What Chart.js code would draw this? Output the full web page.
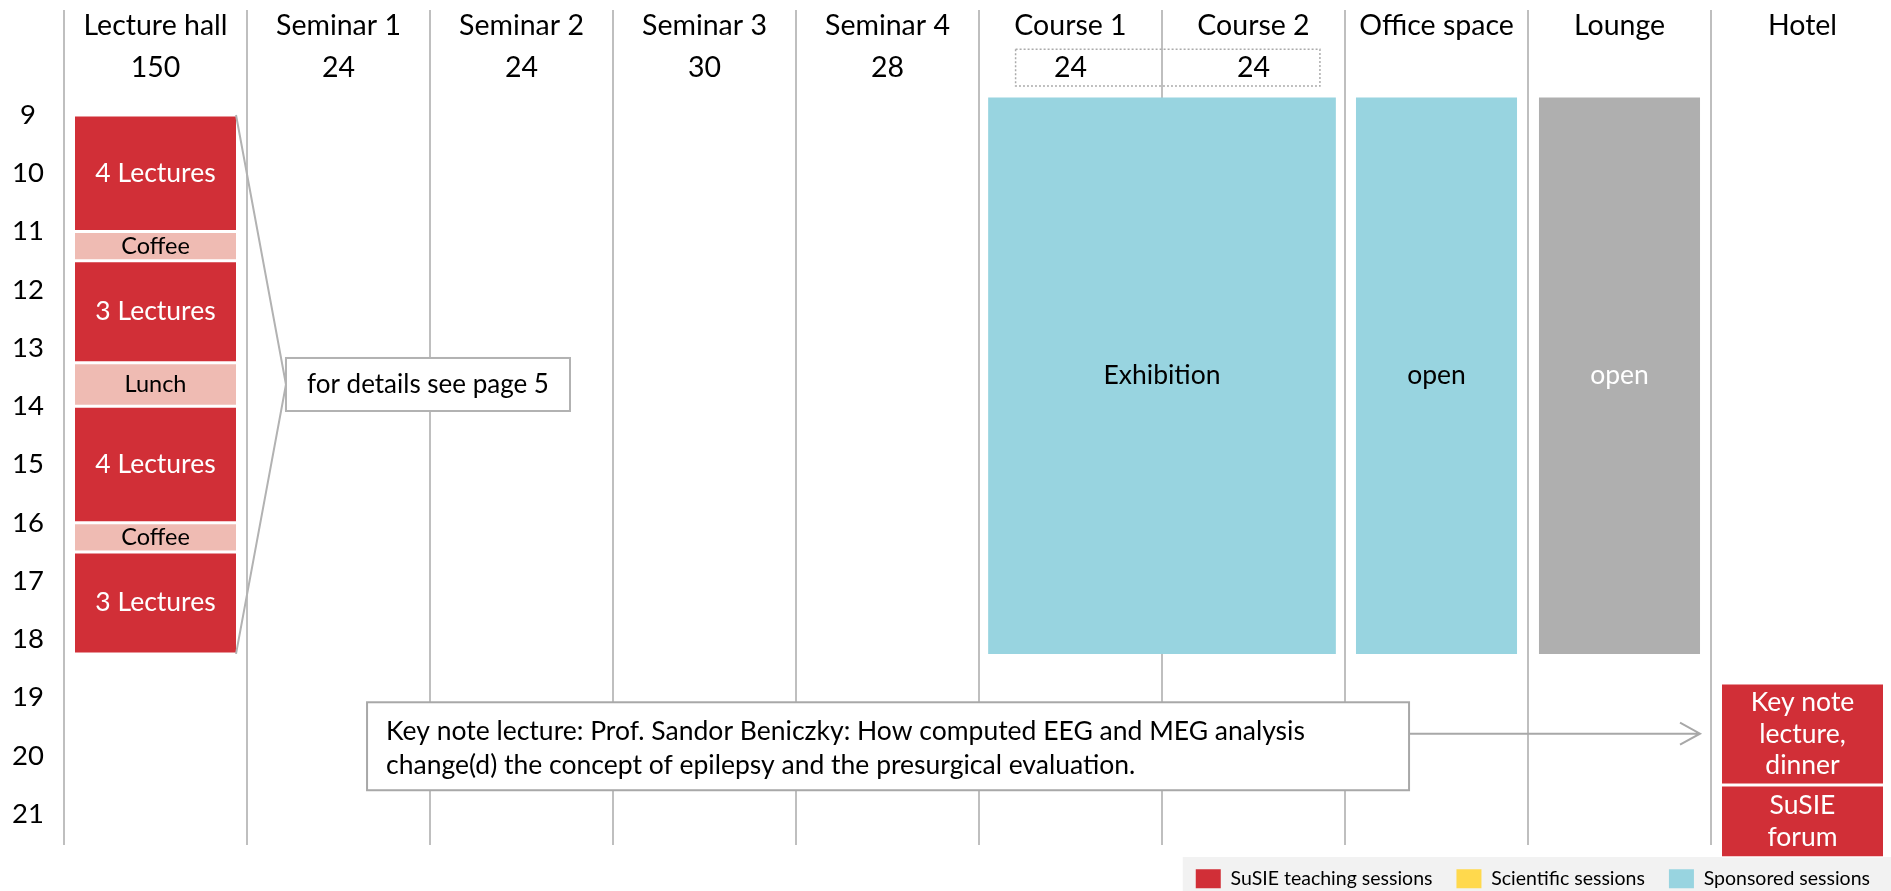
<!DOCTYPE html>
<html>
<head>
<meta charset="utf-8">
<title>SuSIE schedule</title>
<script src="https://cdn.jsdelivr.net/npm/chart.js@4.4.1/dist/chart.umd.min.js"></script>
<style>
  html, body { margin: 0; padding: 0; background: #fff; overflow: hidden; }
  #wrap { width: 1894px; height: 891px; position: relative; }
</style>
</head>
<body>
<div id="wrap"><canvas id="schedule"></canvas></div>
<script>
// rooms along the top, with their capacity underneath
const rooms = ['Lecture hall', 'Seminar 1', 'Seminar 2', 'Seminar 3', 'Seminar 4', 'Course 1', 'Course 2', 'Office space', 'Lounge', 'Hotel'];
const capacity = ['150', '24', '24', '30', '28', '24', '24', '', '', ''];
const hours = [9, 10, 11, 12, 13, 14, 15, 16, 17, 18, 19, 20, 21];

// SuSIE teaching sessions (red)
const teachRoom = ['Lecture hall', 'Lecture hall', 'Lecture hall', 'Lecture hall', 'Hotel', 'Hotel'];
const teachStart = [9, 11.5, 14, 16.5, 18.75, 20.5];
const teachEnd = [11, 13.25, 16, 18.25, 20.5, 21.75];
const teachText = ['4 Lectures', '3 Lectures', '4 Lectures', '3 Lectures', ['Key note', 'lecture,', 'dinner'], ['SuSIE', 'forum']];

// coffee / lunch breaks
const breakRoom = ['Lecture hall', 'Lecture hall', 'Lecture hall'];
const breakStart = [11, 13.25, 16];
const breakEnd = [11.5, 14, 16.5];
const breakText = ['Coffee', 'Lunch', 'Coffee'];

// sponsored: exhibition covers both course rooms (x in room units, 6 = wall between Course 1 and 2)
const exhibitionX = [6];
const exhibitionStart = [8.7];
const exhibitionEnd = [18.25];
const officeRoom = ['Office space'];
const officeStart = [8.7];
const officeEnd = [18.25];

// lounge
const loungeRoom = ['Lounge'];
const loungeStart = [8.7];
const loungeEnd = [18.25];

const legendText = ['SuSIE teaching sessions', 'Scientific sessions', 'Sponsored sessions'];
const legendColors = ['#D12F37', '#FFD94D', '#98D4E0'];

const FONT = 'Lato';
Chart.defaults.font.family = FONT;
Chart.defaults.color = '#000';

function spans(xs, starts, ends) {
    return xs.map((x, i) => ({ x: x, y: [starts[i], ends[i]] }));
}

// gray strip behind the legend
const legendBack = {
    id: 'legendBack',
    beforeDraw(chart) {
        const boxes = chart.legend.legendHitBoxes;
        if (!boxes.length) return;
        const ctx = chart.ctx;
        ctx.save();
        ctx.fillStyle = '#F2F2F2';
        ctx.fillRect(boxes[0].left - 13, boxes[0].top - 12, chart.width, 60);
        ctx.restore();
    }
};

// session names written inside the blocks
const barText = {
    id: 'barText',
    afterDatasetsDraw(chart) {
        const ctx = chart.ctx;
        chart.data.datasets.forEach((ds, di) => {
            if (!ds.texts) return;
            const meta = chart.getDatasetMeta(di);
            ctx.save();
            ctx.font = ds.textSize + 'px ' + FONT;
            ctx.fillStyle = ds.textColor;
            ctx.textAlign = 'center';
            ctx.textBaseline = 'middle';
            meta.data.forEach((bar, i) => {
                const lines = [].concat(ds.texts[i]);
                const cy = (bar.y + bar.base) / 2;
                const lh = ds.textSize * 1.2;
                lines.forEach((ln, k) => {
                    ctx.fillText(ln, bar.x, cy + (k - (lines.length - 1) / 2) * lh);
                });
            });
            ctx.restore();
        });
    }
};

// callout boxes, arrow and the dotted frame round the course capacities
const notes = {
    id: 'notes',
    afterDatasetsDraw(chart) {
        const ctx = chart.ctx;
        const x2 = chart.scales.x2, y = chart.scales.y;
        ctx.save();

        // dotted frame
        ctx.strokeStyle = '#ABABAB';
        ctx.lineWidth = 1.5;
        ctx.setLineDash([2, 2]);
        const fx0 = x2.getPixelForValue(5.2), fx1 = x2.getPixelForValue(6.863);
        const fy0 = y.getPixelForValue(7.87), fy1 = y.getPixelForValue(8.5);
        ctx.strokeRect(fx0, fy0, fx1 - fx0, fy1 - fy0);
        ctx.setLineDash([]);

        // "for details" callout, bracketing the lecture hall blocks
        const lect = chart.getDatasetMeta(0).data;
        const first = lect[0], last = lect[3];
        const bx0 = x2.getPixelForValue(1.213), bx1 = x2.getPixelForValue(2.765);
        const by0 = y.getPixelForValue(13.17), by1 = y.getPixelForValue(14.08);
        ctx.strokeStyle = '#B2B2B2';
        ctx.lineWidth = 2;
        ctx.beginPath();
        ctx.moveTo(first.x + first.width / 2, Math.min(first.y, first.base));
        ctx.lineTo(bx0, (by0 + by1) / 2);
        ctx.lineTo(last.x + last.width / 2, Math.max(last.y, last.base));
        ctx.stroke();
        ctx.fillStyle = '#fff';
        ctx.fillRect(bx0, by0, bx1 - bx0, by1 - by0);
        ctx.strokeRect(bx0, by0, bx1 - bx0, by1 - by0);
        ctx.fillStyle = '#000';
        ctx.font = '26px ' + FONT;
        ctx.textAlign = 'center';
        ctx.textBaseline = 'middle';
        ctx.fillText('for details see page 5', (bx0 + bx1) / 2, (by0 + by1) / 2);

        // key note box + arrow to the hotel
        const kx0 = x2.getPixelForValue(1.656), kx1 = x2.getPixelForValue(7.35);
        const ky0 = y.getPixelForValue(19.08), ky1 = y.getPixelForValue(20.59);
        const ay = y.getPixelForValue(19.62), ax = x2.getPixelForValue(8.94);
        ctx.strokeStyle = '#A8A8A8';
        ctx.beginPath();
        ctx.moveTo(kx1, ay);
        ctx.lineTo(ax, ay);
        ctx.moveTo(ax - 20, ay - 11);
        ctx.lineTo(ax, ay);
        ctx.lineTo(ax - 20, ay + 11);
        ctx.stroke();
        ctx.fillStyle = '#fff';
        ctx.fillRect(kx0, ky0, kx1 - kx0, ky1 - ky0);
        ctx.strokeRect(kx0, ky0, kx1 - kx0, ky1 - ky0);
        ctx.fillStyle = '#000';
        ctx.font = '26.5px ' + FONT;
        ctx.textAlign = 'left';
        ctx.fillText('Key note lecture: Prof. Sandor Beniczky: How computed EEG and MEG analysis', kx0 + 19, ky0 + 29);
        ctx.fillText('change(d) the concept of epilepsy and the presurgical evaluation.', kx0 + 19, ky0 + 63);

        ctx.restore();
    }
};

new Chart(document.getElementById('schedule'), {
    type: 'bar',
    data: {
        labels: rooms,
        datasets: [{
            label: 'SuSIE teaching sessions',
            data: spans(teachRoom, teachStart, teachEnd),
            backgroundColor: '#D12F37',
            borderColor: '#fff',
            borderWidth: { top: 1.5, bottom: 1.5, left: 0, right: 0 },
            texts: teachText, textColor: '#fff', textSize: 26.5
        }, {
            label: 'Breaks',
            data: spans(breakRoom, breakStart, breakEnd),
            backgroundColor: '#EFBBB3',
            borderColor: '#fff',
            borderWidth: { top: 1.5, bottom: 1.5, left: 0, right: 0 },
            texts: breakText, textColor: '#000', textSize: 23.5
        }, {
            label: 'Exhibition',
            xAxisID: 'x2',
            data: spans(exhibitionX, exhibitionStart, exhibitionEnd),
            backgroundColor: '#98D4E0',
            barPercentage: 0.95,
            texts: ['Exhibition'], textColor: '#000', textSize: 26.5
        }, {
            label: 'Office space',
            data: spans(officeRoom, officeStart, officeEnd),
            backgroundColor: '#98D4E0',
            texts: ['open'], textColor: '#000', textSize: 26.5
        }, {
            label: 'Lounge',
            data: spans(loungeRoom, loungeStart, loungeEnd),
            backgroundColor: '#AFAFAF',
            texts: ['open'], textColor: '#fff', textSize: 26.5
        }]
    },
    options: {
        responsive: true,
        maintainAspectRatio: false,
        animation: false,
        events: [],
        layout: { padding: { top: 10, left: 0, right: 0, bottom: -7.5 } },
        datasets: {
            bar: { grouped: false, categoryPercentage: 1, barPercentage: 0.88, borderSkipped: false, clip: false }
        },
        scales: {
            x: {
                position: 'top',
                offset: true,
                grid: { offset: true, color: '#BFBFBF', lineWidth: 2, tickLength: 80 },
                border: { display: false },
                ticks: {
                    autoSkip: false,
                    maxRotation: 0,
                    padding: -79,
                    color: '#000',
                    font: { size: 28.5, lineHeight: '42px' },
                    callback: (v, i) => [rooms[i], capacity[i]]
                },
                afterFit: s => { s.height = 80; }
            },
            x2: {
                type: 'linear',
                display: false,
                offset: false,
                min: 0,
                max: 10,
                ticks: { stepSize: 2 },
                grid: { display: false }
            },
            y: {
                reverse: true,
                min: 8.57,
                max: 21.53,
                grid: { display: false, drawTicks: false },
                border: { display: false },
                afterBuildTicks: s => { s.ticks = hours.map(h => ({ value: h })); },
                ticks: {
                    autoSkip: false,
                    crossAlign: 'center',
                    padding: 20,
                    color: '#000',
                    font: { size: 27.5 }
                },
                afterFit: s => { s.width = 64; }
            }
        },
        plugins: {
            tooltip: { enabled: false },
            legend: {
                position: 'bottom',
                align: 'end',
                onClick: null,
                labels: {
                    boxWidth: 25,
                    boxHeight: 19,
                    padding: 24,
                    color: '#000',
                    font: { size: 19.5 },
                    generateLabels: () => legendText.map((t, i) => ({
                        text: t, fillStyle: legendColors[i], strokeStyle: legendColors[i],
                        lineWidth: 0, hidden: false, index: i
                    }))
                }
            }
        }
    },
    plugins: [legendBack, barText, notes]
});
</script>
</body>
</html>
